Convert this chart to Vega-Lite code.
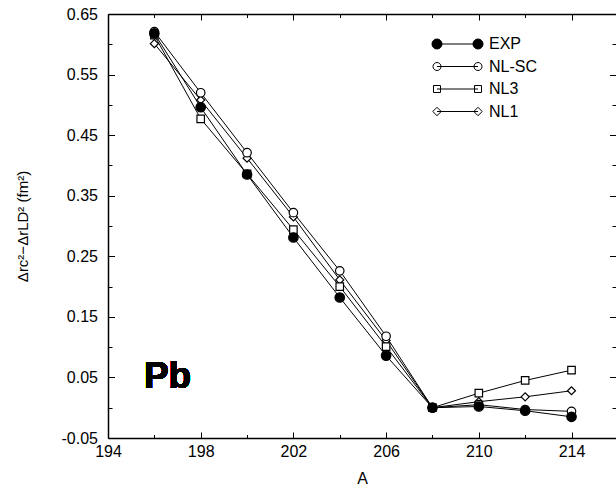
{
  "$schema": "https://vega.github.io/schema/vega-lite/v6.json",
  "autosize": {"type": "none"},
  "padding": {"left": 108, "top": 14, "right": 0, "bottom": 49},
  "width": 508,
  "height": 424,
  "background": "white",
  "data": {
    "values": [
      {"A": 196, "series": "NL1", "value": 0.601},
      {"A": 198, "series": "NL1", "value": 0.508},
      {"A": 200, "series": "NL1", "value": 0.412},
      {"A": 202, "series": "NL1", "value": 0.315},
      {"A": 204, "series": "NL1", "value": 0.211},
      {"A": 206, "series": "NL1", "value": 0.111},
      {"A": 208, "series": "NL1", "value": 0.0},
      {"A": 210, "series": "NL1", "value": 0.010},
      {"A": 212, "series": "NL1", "value": 0.018},
      {"A": 214, "series": "NL1", "value": 0.028},
      {"A": 196, "series": "NL3", "value": 0.615},
      {"A": 198, "series": "NL3", "value": 0.477},
      {"A": 200, "series": "NL3", "value": 0.386},
      {"A": 202, "series": "NL3", "value": 0.294},
      {"A": 204, "series": "NL3", "value": 0.200},
      {"A": 206, "series": "NL3", "value": 0.101},
      {"A": 208, "series": "NL3", "value": 0.0},
      {"A": 210, "series": "NL3", "value": 0.024},
      {"A": 212, "series": "NL3", "value": 0.045},
      {"A": 214, "series": "NL3", "value": 0.062},
      {"A": 196, "series": "NL-SC", "value": 0.621},
      {"A": 198, "series": "NL-SC", "value": 0.520},
      {"A": 200, "series": "NL-SC", "value": 0.421},
      {"A": 202, "series": "NL-SC", "value": 0.322},
      {"A": 204, "series": "NL-SC", "value": 0.226},
      {"A": 206, "series": "NL-SC", "value": 0.118},
      {"A": 208, "series": "NL-SC", "value": 0.0},
      {"A": 210, "series": "NL-SC", "value": 0.005},
      {"A": 212, "series": "NL-SC", "value": -0.003},
      {"A": 214, "series": "NL-SC", "value": -0.006},
      {"A": 196, "series": "EXP", "value": 0.618},
      {"A": 198, "series": "EXP", "value": 0.496},
      {"A": 200, "series": "EXP", "value": 0.385},
      {"A": 202, "series": "EXP", "value": 0.281},
      {"A": 204, "series": "EXP", "value": 0.182},
      {"A": 206, "series": "EXP", "value": 0.086},
      {"A": 208, "series": "EXP", "value": 0.0},
      {"A": 210, "series": "EXP", "value": 0.002},
      {"A": 212, "series": "EXP", "value": -0.005},
      {"A": 214, "series": "EXP", "value": -0.015}
    ]
  },
  "layer": [
    {
      "mark": {"type": "line", "color": "black", "strokeWidth": 1},
      "encoding": {
        "x": {
          "field": "A", "type": "quantitative",
          "scale": {"domain": [194, 215.92], "nice": false, "zero": false},
          "axis": {
            "orient": "bottom",
            "values": [194, 196, 198, 200, 202, 204, 206, 208, 210, 212, 214],
            "domain": true, "domainColor": "black", "domainWidth": 1.5,
            "ticks": true, "tickColor": "black", "tickWidth": 1,
            "tickSize": {"condition": {"test": "(datum.value - 194) % 4 != 0", "value": -3.5}, "value": -6},
            "labelExpr": "(datum.value - 194) % 4 == 0 ? datum.label : ''",
            "labelFlush": false, "labelOverlap": false,
            "labelFont": "Liberation Sans", "labelFontSize": 16, "labelColor": "black",
            "labelPadding": 11.5,
            "grid": false,
            "title": "A", "titleFont": "Liberation Sans", "titleFontSize": 16,
            "titleFontWeight": "normal", "titleColor": "black",
            "titleBaseline": "alphabetic", "titleY": 45
          }
        },
        "y": {
          "field": "value", "type": "quantitative",
          "scale": {"domain": [-0.05, 0.65], "nice": false, "zero": false},
          "axis": {
            "orient": "left",
            "values": [-0.05, 0, 0.05, 0.1, 0.15, 0.2, 0.25, 0.3, 0.35, 0.4, 0.45, 0.5, 0.55, 0.6, 0.65],
            "domain": true, "domainColor": "black", "domainWidth": 1.5,
            "ticks": true, "tickColor": "black", "tickWidth": 1,
            "tickSize": {"condition": {"test": "round(datum.value * 100) % 10 == 0", "value": -4}, "value": -6.5},
            "labelExpr": "round(datum.value * 100) % 10 == 0 ? '' : (datum.value < 0 ? '-' : '') + format(abs(datum.value), '.2f')",
            "labelFlush": false, "labelOverlap": false,
            "labelFont": "Liberation Sans", "labelFontSize": 16, "labelColor": "black",
            "labelPadding": 17,
            "grid": false,
            "title": "Δrc²−ΔrLD² (fm²)      ", "titleFont": "Liberation Sans", "titleFontSize": 15,
            "titleFontWeight": "normal", "titleColor": "black",
            "titleBaseline": "alphabetic", "titleAlign": "center", "titleAngle": -90,
            "titleX": -81
          }
        },
        "detail": {"field": "series", "type": "nominal"}
      }
    },
    {
      "mark": {"type": "point", "filled": true, "stroke": "black", "strokeWidth": 1.2, "opacity": 1},
      "encoding": {
        "x": {
          "field": "A", "type": "quantitative",
          "scale": {"domain": [194, 215.92], "nice": false, "zero": false},
          "axis": {
            "orient": "top",
            "values": [194, 196, 198, 200, 202, 204, 206, 208, 210, 212, 214],
            "domain": true, "domainColor": "black", "domainWidth": 1.5,
            "ticks": true, "tickColor": "black", "tickWidth": 1,
            "tickSize": {"condition": {"test": "(datum.value - 194) % 4 != 0", "value": -3.5}, "value": -6},
            "labels": false, "grid": false, "title": null
          }
        },
        "y": {
          "field": "value", "type": "quantitative",
          "scale": {"domain": [-0.05, 0.65], "nice": false, "zero": false},
          "axis": {
            "orient": "right",
            "values": [-0.05, 0, 0.05, 0.1, 0.15, 0.2, 0.25, 0.3, 0.35, 0.4, 0.45, 0.5, 0.55, 0.6, 0.65],
            "domain": false,
            "ticks": true, "tickColor": "black", "tickWidth": 1,
            "tickSize": {"condition": {"test": "round(datum.value * 100) % 10 == 0", "value": -4}, "value": -6.5},
            "labels": false, "grid": false, "title": null
          }
        },
        "shape": {
          "field": "series", "type": "nominal",
          "scale": {"domain": ["EXP", "NL-SC", "NL3", "NL1"], "range": ["circle", "circle", "square", "diamond"]},
          "legend": null
        },
        "fill": {
          "condition": {"test": "datum.series === 'EXP'", "value": "black"},
          "value": "white"
        },
        "size": {
          "condition": [
            {"test": "datum.series === 'EXP'", "value": 90},
            {"test": "datum.series === 'NL-SC'", "value": 72},
            {"test": "datum.series === 'NL3'", "value": 56}
          ],
          "value": 64
        }
      }
    },
    {
      "mark": {"type": "point", "filled": true, "stroke": "black", "strokeWidth": 1, "opacity": 0},
      "encoding": {
        "x": {"field": "A", "type": "quantitative", "scale": {"domain": [194, 215.92], "nice": false, "zero": false}, "axis": null},
        "y": {"field": "value", "type": "quantitative", "scale": {"domain": [-0.05, 0.65], "nice": false, "zero": false}, "axis": null},
        "shape": {
          "field": "series", "type": "nominal",
          "scale": {
            "domain": ["EXP", "NL-SC", "NL3", "NL1"],
            "range": [
              "M-0.571,0H3.333M-1.048,0A0.476,0.476 0 1,0 -0.095,0A0.476,0.476 0 1,0 -1.048,0ZM2.857,0A0.476,0.476 0 1,0 3.81,0A0.476,0.476 0 1,0 2.857,0Z",
              "M-0.571,0H3.333M-0.952,0A0.381,0.381 0 1,0 -0.19,0A0.381,0.381 0 1,0 -0.952,0ZM2.952,0A0.381,0.381 0 1,0 3.714,0A0.381,0.381 0 1,0 2.952,0Z",
              "M-0.571,0H3.333M-0.904,-0.333H-0.238V0.333H-0.904ZM3,-0.333H3.666V0.333H3Z",
              "M-0.571,0H3.333M-0.971,0L-0.571,-0.4L-0.171,0L-0.571,0.4ZM2.933,0L3.333,-0.4L3.733,0L3.333,0.4Z"
            ]
          },
          "legend": {
            "title": null,
            "orient": "none", "legendX": 324, "legendY": 19,
            "padding": 0, "rowPadding": 3.5,
            "symbolSize": 441, "symbolStrokeWidth": 1, "symbolStrokeColor": "black",
            "symbolFillColor": "white", "symbolOpacity": 1,
            "labelFont": "Liberation Sans", "labelFontSize": 16, "labelColor": "black", "labelOffset": 35
          }
        },
        "fill": {
          "field": "series", "type": "nominal",
          "scale": {"domain": ["EXP", "NL-SC", "NL3", "NL1"], "range": ["black", "white", "white", "white"]},
          "legend": {
            "title": null,
            "orient": "none", "legendX": 324, "legendY": 19,
            "padding": 0, "rowPadding": 3.5,
            "symbolSize": 441, "symbolStrokeWidth": 1, "symbolStrokeColor": "black",
            "symbolFillColor": "white", "symbolOpacity": 1,
            "labelFont": "Liberation Sans", "labelFontSize": 16, "labelColor": "black", "labelOffset": 35
          }
        }
      }
    },
    {
      "mark": {"type": "text", "text": "Pb", "font": "Liberation Sans", "fontSize": 37, "fontWeight": "bold", "color": "black", "align": "center", "baseline": "middle"},
      "encoding": {
        "x": {"datum": 196.57, "type": "quantitative", "scale": {"domain": [194, 215.92], "nice": false, "zero": false}, "axis": null},
        "y": {"datum": 0.05, "type": "quantitative", "scale": {"domain": [-0.05, 0.65], "nice": false, "zero": false}, "axis": null}
      }
    }
  ],
  "resolve": {
    "scale": {"shape": "independent", "fill": "independent"},
    "axis": {"x": "independent", "y": "independent"}
  },
  "config": {
    "font": "Liberation Sans",
    "view": {"stroke": null}
  }
}
